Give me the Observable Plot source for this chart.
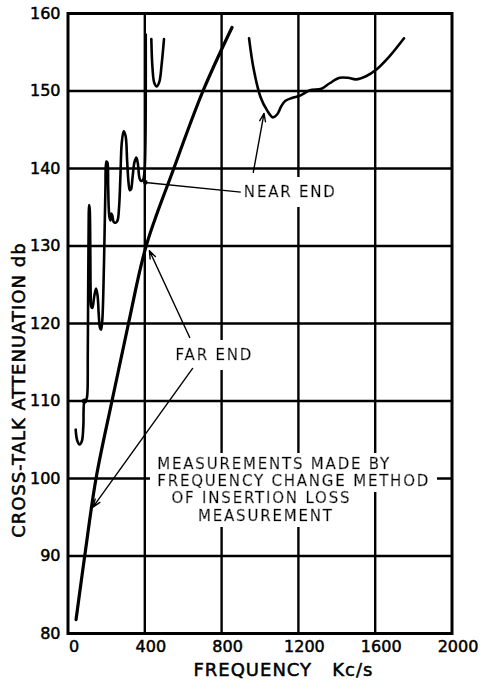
<!DOCTYPE html>
<html>
<head>
<meta charset="utf-8">
<script src="https://cdn.jsdelivr.net/npm/d3@7"></script>
<script src="https://cdn.jsdelivr.net/npm/@observablehq/plot@0.6"></script>
<style>
  html, body { margin: 0; padding: 0; background: #fff; }
  svg { display: block; }
</style>
</head>
<body>
<div id="chart"></div>
<script>
// ---- tick values ----
const freqTicks = [0, 400, 800, 1200, 1600, 2000];
const dbTicks = [80, 90, 100, 110, 120, 130, 140, 150, 160];

// ---- FAR END curve ----
const farFreq = [42, 87, 146, 229, 315, 407, 551, 703, 854];
const farDb   = [81.8, 90, 100, 110, 120, 130, 140, 150, 158.2];

// ---- NEAR END curve, low-frequency oscillating part ----
const nearLowFreq = [40, 48, 60, 72, 80, 86, 96, 101, 103, 105, 107, 110,
  113, 116, 118, 121, 127, 136, 146, 154, 160, 166, 172,
  178, 184, 190, 195, 200, 205, 209, 212, 216, 221,
  226, 231, 238, 248, 258, 266, 273, 280, 290, 300,
  308, 316, 322, 328, 336, 346, 356, 364, 372, 380,
  390, 398, 403, 405, 405];
const nearLowDb = [106.3, 104.9, 104.4, 104.8, 106.8, 110, 110.2, 111, 116, 124, 131, 135.3,
  134.8, 130, 124, 122.2, 122, 123.4, 124.5, 123.6, 121.2, 119.5, 119.2,
  120.2, 124, 131, 137.5, 140.9, 140.8, 138, 135, 133.7, 133.3,
  134.2, 133.9, 133.1, 133, 133.3, 135, 139, 143.3, 144.8, 144.2,
  141, 138, 137.2, 137.3, 138.8, 140.8, 141.4, 140.6, 138.8, 138.4,
  138.5, 139.5, 143, 150, 157.3];

// ---- NEAR END curve, small U near the top ----
const nearUFreq = [434, 440, 450, 463, 476, 488, 500];
const nearUDb   = [156.7, 153, 151, 150.6, 151.2, 153.5, 156.7];

// ---- NEAR END curve, high-frequency part ----
const nearHighFreq = [943, 968, 1003, 1037, 1067, 1090, 1110, 1131, 1166, 1209,
  1260, 1320, 1363, 1415, 1458, 1500, 1552, 1603, 1672, 1750];
const nearHighDb = [156.8, 152.7, 149.2, 147.5, 146.6, 147.0, 148.0, 148.7, 149.1, 149.4,
  150.1, 150.3, 151.0, 151.7, 151.7, 151.5, 151.9, 152.7, 154.4, 156.8];

// ---- texts ----
const xTitle = "FREQUENCY\u00a0\u00a0\u00a0Kc/s";
const yTitle = "CROSS-TALK ATTENUATION db";
const labels = ["NEAR END", "FAR END"];
const noteLines = ["MEASUREMENTS MADE BY", "FREQUENCY CHANGE METHOD", "OF INSERTION LOSS", "MEASUREMENT"];

// ---- annotation anchors (data units: kc/s, db) ----
const labelFreq = [916, 560];
const labelDb = [136.9, 115.9];
const noteFreq = [465, 465, 539, 677];
const noteDb = [101.9, 99.6, 97.4, 95.1];
const leaders = [
  {x1: 403, y1: 138.2, x2: 900, y2: 136.95}
];
const arrows = [
  {x1: 965, y1: 139.5, x2: 1021, y2: 147.1},
  {x1: 634, y1: 118.2, x2: 424, y2: 129.4},
  {x1: 649, y1: 114.2, x2: 130, y2: 96.3}
];

const toRows = (xs, ys, seg) => xs.map((x, i) => ({f: x, db: ys[i], seg}));
const nearRows = [
  ...toRows(nearLowFreq, nearLowDb, "low"),
  ...toRows(nearUFreq, nearUDb, "u"),
  ...toRows(nearHighFreq, nearHighDb, "high")
];
const farRows = toRows(farFreq, farDb, "far");

const FONT = "DejaVu Sans";

const chart = Plot.plot({
  width: 481,
  height: 680,
  marginLeft: 67.5,
  marginRight: 29.5,
  marginTop: 13,
  marginBottom: 47,
  x: {type: "linear", domain: [0, 2000]},
  y: {type: "linear", domain: [80, 160]},
  style: {fontFamily: FONT, background: "white", color: "black"},
  marks: [
    Plot.gridX(freqTicks.slice(1, -1), {stroke: "black", strokeOpacity: 1, strokeWidth: 2.4}),
    Plot.gridY(dbTicks.slice(1, -1), {stroke: "black", strokeOpacity: 1, strokeWidth: 2.4}),
    Plot.frame({stroke: "black", strokeWidth: 3}),
    Plot.axisX(freqTicks, {tickSize: 0, tickPadding: 7, fontSize: 16, label: null, dx: 6, tickFormat: d => String(d)}),
    Plot.axisY(dbTicks, {tickSize: 0, tickPadding: 7.5, fontSize: 16, label: null, tickFormat: d => String(d)}),
    // curves
    Plot.line(farRows, {x: "f", y: "db", stroke: "black", strokeWidth: 3.2, curve: "catmull-rom"}),
    Plot.line(nearRows, {x: "f", y: "db", z: "seg", stroke: "black", strokeWidth: 2.6, curve: "catmull-rom"}),
    Plot.dot([{f: 86, db: 110}], {x: "f", y: "db", r: 2.6, fill: "black"}),
    // annotation texts
    Plot.text(labels, {x: (d, i) => labelFreq[i], y: (d, i) => labelDb[i], text: d => d,
      textAnchor: "start", fontSize: 15, fill: "black"}),
    Plot.text(noteLines, {x: (d, i) => noteFreq[i], y: (d, i) => noteDb[i], text: d => d,
      textAnchor: "start", fontSize: 15, fill: "black"}),
    // leader lines and arrows
    Plot.link(leaders, {x1: "x1", y1: "y1", x2: "x2", y2: "y2", stroke: "black", strokeWidth: 1.4, markerStart: "dot"}),
    Plot.arrow(arrows, {x1: "x1", y1: "y1", x2: "x2", y2: "y2", stroke: "black", strokeWidth: 1.4, headLength: 9, headAngle: 40}),
    // axis titles
    Plot.text([xTitle], {x: 1122, y: 75.2, text: d => d, fontSize: 18, fill: "black"}),
    Plot.text([yTitle], {x: 0, y: 111.4, dx: -49, rotate: -90, text: d => d, fontSize: 18, fill: "black"})
  ]
});

// white backing behind annotation texts, breaking the grid as in the original
const svg = d3.select(chart);
const defs = svg.insert("defs", ":first-child");
function addBg(id, x, y, w, h) {
  const f = defs.append("filter").attr("id", id)
    .attr("x", x).attr("y", y).attr("width", w).attr("height", h);
  f.append("feFlood").attr("flood-color", "white").attr("result", "bg");
  const m = f.append("feMerge");
  m.append("feMergeNode").attr("in", "bg");
  m.append("feMergeNode").attr("in", "SourceGraphic");
}
addBg("bgLabel", -0.03, -0.3, 1.06, 1.6);
addBg("bgNote", -0.025, -0.06, 1.05, 1.12);
// heavier, hand-lettered look
svg.selectAll("text").attr("stroke", "black").attr("stroke-width", 0.5).attr("stroke-linejoin", "round");
svg.selectAll("text")
  .filter(function () { return labels.includes(this.textContent); })
  .attr("letter-spacing", "1.8px").attr("filter", "url(#bgLabel)");
svg.selectAll("text")
  .filter(function () { return noteLines.includes(this.textContent); })
  .attr("letter-spacing", "1.8px").attr("filter", "url(#bgNote)");
svg.selectAll("text")
  .filter(function () { return this.textContent === yTitle || this.textContent === xTitle; })
  .attr("letter-spacing", "1px");
document.getElementById("chart").appendChild(chart);
</script>
</body>
</html>
